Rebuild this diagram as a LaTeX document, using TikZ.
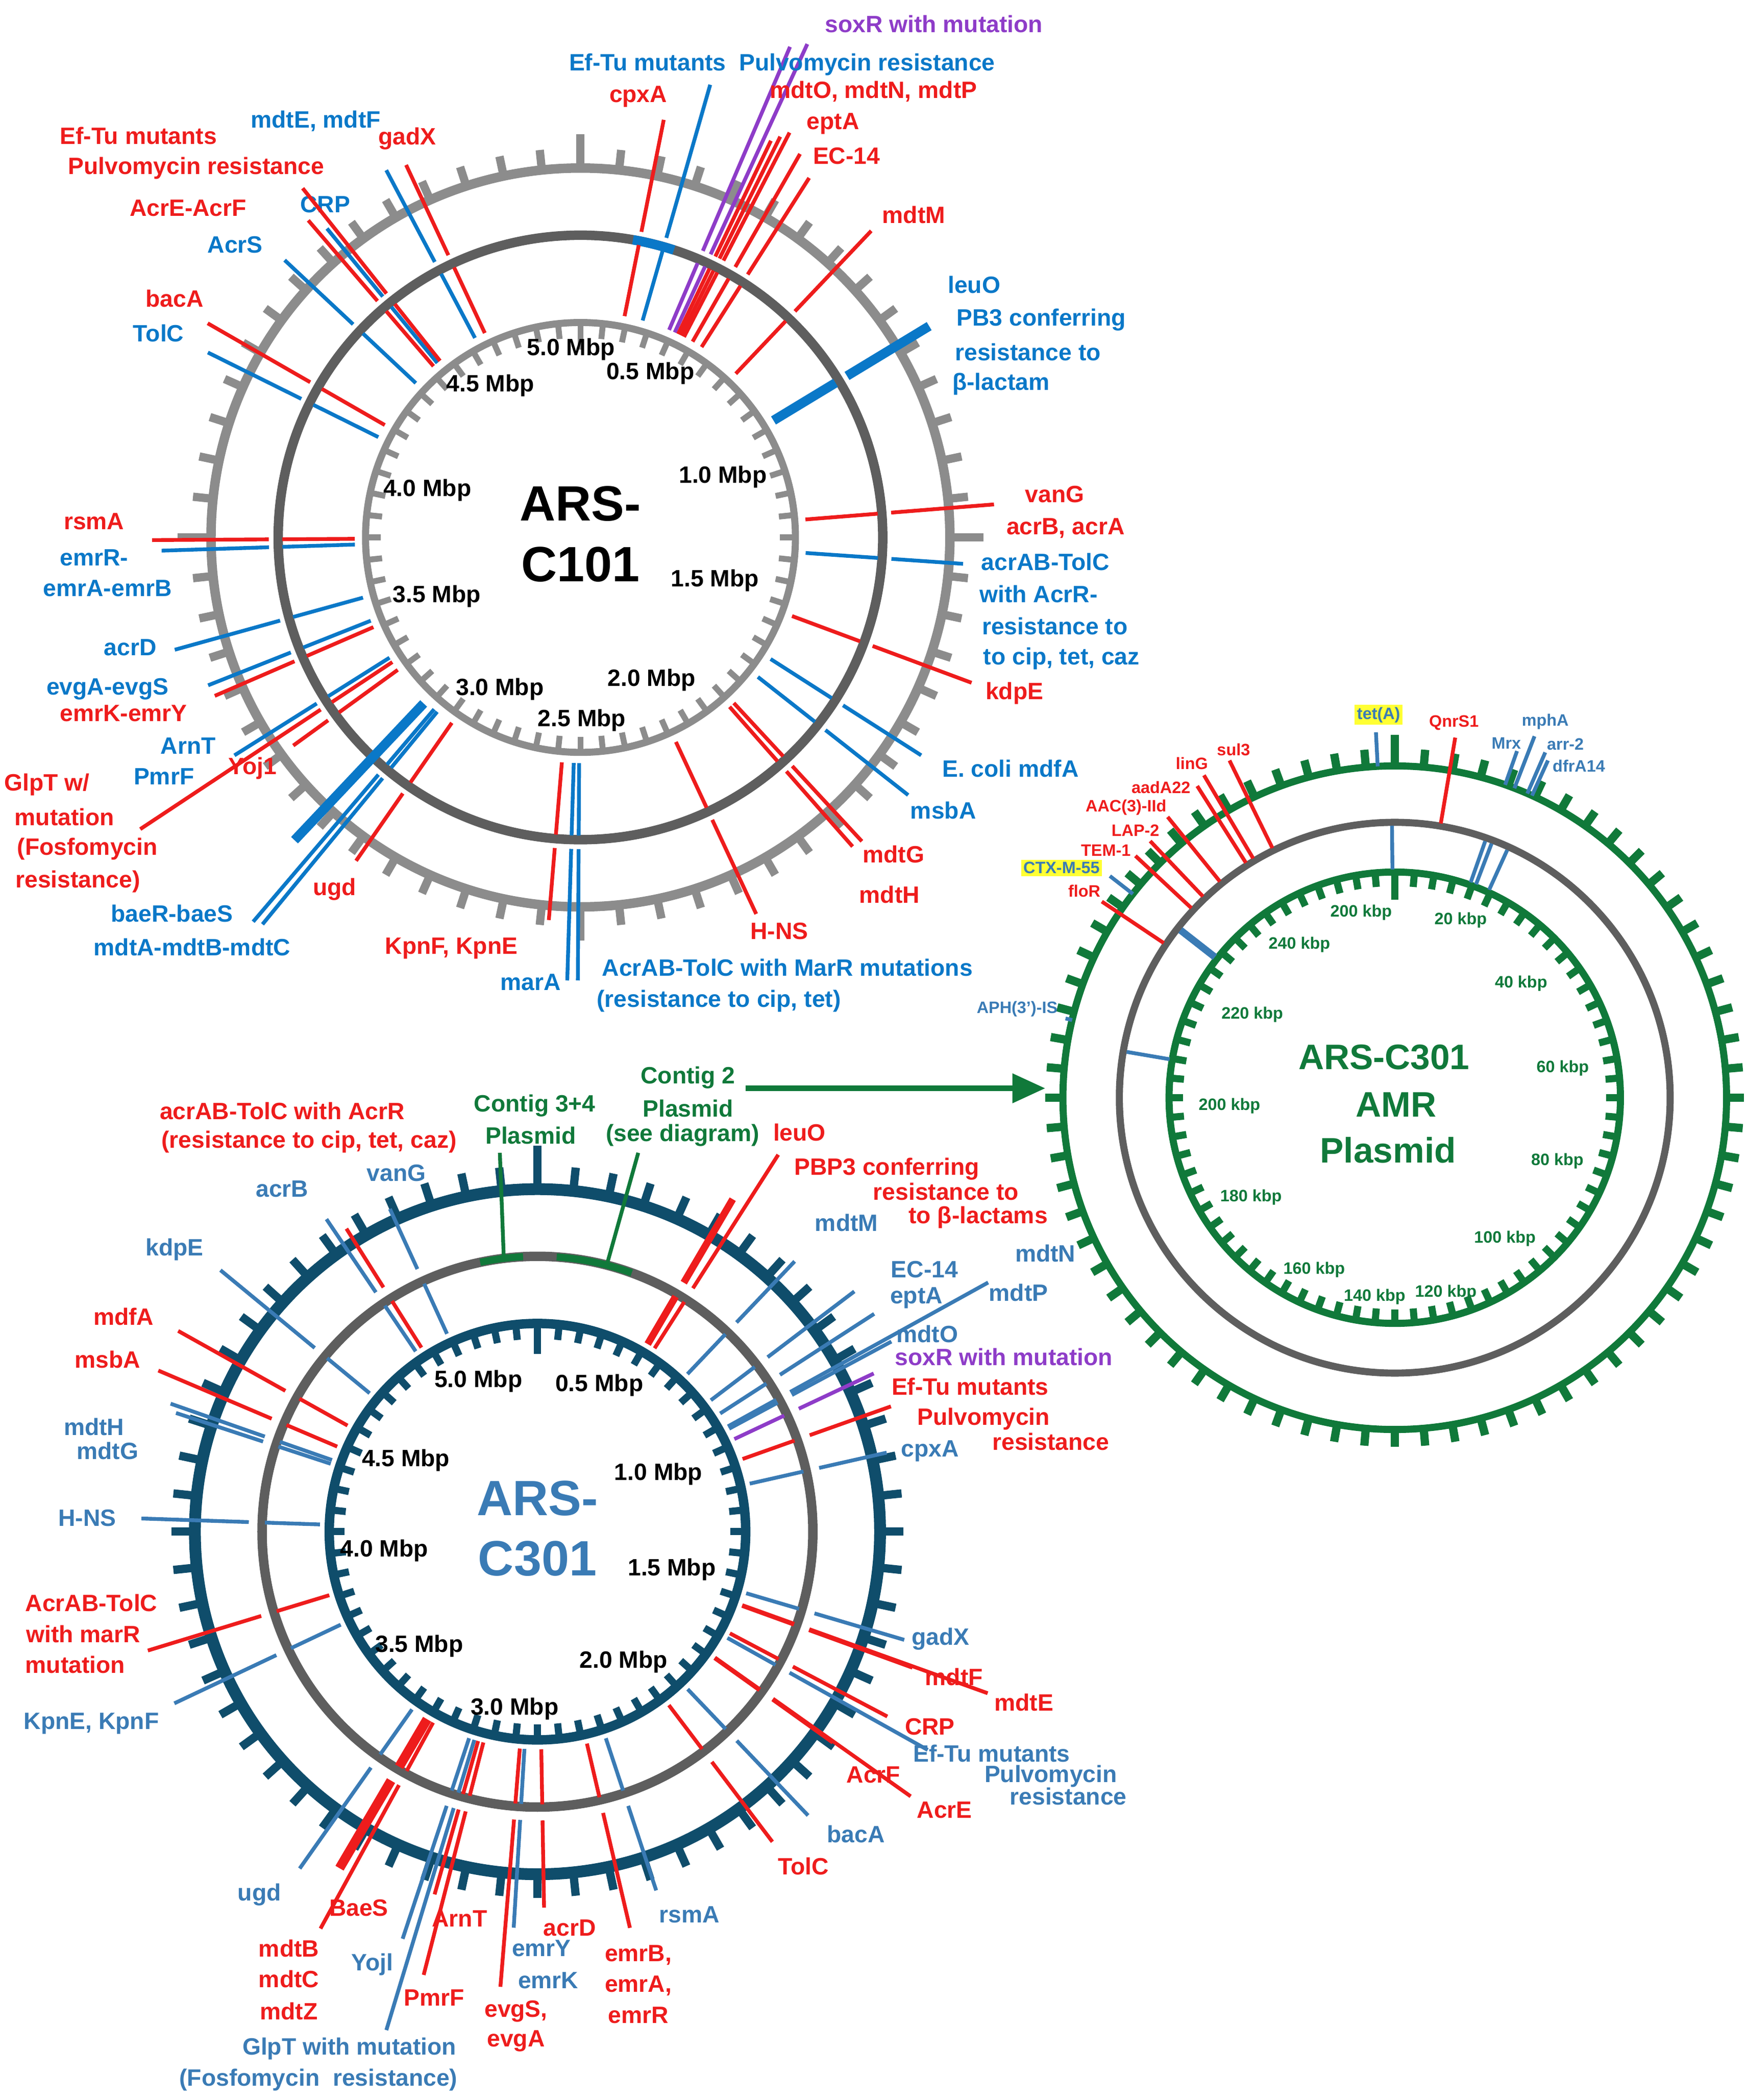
\documentclass[tikz,border=0pt]{standalone}
\usepackage{fontspec}
\setmainfont{Liberation Sans}
\usetikzlibrary{calc,arrows.meta}
\definecolor{R}{HTML}{EE1C1C}
\definecolor{B}{HTML}{0A78C8}
\definecolor{S}{HTML}{3A7BB5}
\definecolor{P}{HTML}{8E3CC8}
\definecolor{G}{HTML}{10793A}
\definecolor{T}{HTML}{0F4D6B}
\definecolor{LG}{HTML}{8C8C8C}
\definecolor{DG}{HTML}{5E5E5E}
\definecolor{HL}{HTML}{FFFF33}
\tikzset{
 l/.style={font=\fontsize{10}{11}\selectfont\bfseries,inner sep=0pt},
 s/.style={font=\fontsize{7}{8}\selectfont\bfseries,inner sep=0pt},
 mk/.style={line width=1.6pt},
}
% \mrk{center}{r1}{r2}{rout}{color}{x,y}
\newcommand\mrk[6]{\draw[mk,#5] ($(#1)!#2!(#6)$) -- ($(#1)!#3!(#6)$); \draw[mk,#5,shorten >=3pt] ($(#1)!#4!(#6)$) -- (#6);}
\newcommand\ma[2]{\mrk{A}{3.36cm}{4.44cm}{4.64cm}{#1}{#2}}
\newcommand\mb[2]{\mrk{Bc}{3.24cm}{4.06cm}{4.3cm}{#1}{#2}}
% plasmid: outer line from radius #3 ; inner segment
\newcommand\mco[3]{\draw[mk,#1] ($(Cc)!#3!(#2)$) -- (#2);}
\newcommand\mci[2]{\draw[mk,#1] ($(Cc)!3.4cm!(#2)$) -- ($(Cc)!4.05cm!(#2)$);}
\begin{document}
\begin{tikzpicture}[x=0.02cm,y=-0.02cm]
\useasboundingbox (0,0) rectangle (1300,1563);
\coordinate (A) at (432,400);
\coordinate (Bc) at (400,1140);
\coordinate (Cc) at (1038,817);
% ===== ARS-C101 =====
\draw[LG,line width=4pt] (A) circle (5.5cm);
\foreach \a in {0,6,...,354} \draw[LG,line width=3.5pt] ($(A)+(\a:5.55cm)$) -- ($(A)+(\a:5.8cm)$);
\foreach \a in {90,270,0,180} \draw[LG,line width=3.5pt] ($(A)+(\a:5.55cm)$) -- ($(A)+(\a:6cm)$);
\draw[DG,line width=4pt] (A) circle (4.5cm);
\draw[B,line width=4pt] ($(A)+(80:4.5cm)$) arc (80:72:4.5cm);
\draw[LG,line width=3pt] (A) circle (3.2cm);
\foreach \a in {0,6,...,354} \draw[LG,line width=2.5pt] ($(A)+(\a:3.2cm)$) -- ($(A)+(\a:2.97cm)$);
\draw[LG,line width=2.5pt] ($(A)+(90:3.2cm)$) -- ($(A)+(90:2.8cm)$);
\node[font=\fontsize{21}{22}\selectfont\bfseries] at (432,375) {ARS-};
\node[font=\fontsize{21}{22}\selectfont\bfseries] at (432,420) {C101};
\foreach \t/\x/\y in {5.0 Mbp/425/260,0.5 Mbp/484/278,4.5 Mbp/365/287,1.0 Mbp/538/355,4.0 Mbp/318/365,1.5 Mbp/532/432,3.5 Mbp/325/444,2.0 Mbp/485/506,3.0 Mbp/372/513,2.5 Mbp/433/536}
  \node[l] at (\x,\y) {\t};
% markers C101
\ma{P}{603,28} \ma{P}{590,30}
\ma{B}{530,58} \node[l,B] at (582,48) {Ef-Tu mutants\ \ Pulvomycin resistance};
\node[l,P] at (695,18) {soxR with mutation};
\ma{R}{495,84} \node[l,R] at (475,72) {cpxA};
\ma{R}{590,94} \ma{R}{583,97} \ma{R}{576,100} \node[l,R] at (650,68) {mdtO, mdtN, mdtP};
\ma{R}{598,110} \node[l,R] at (620,92) {eptA};
\ma{R}{605,128} \node[l,R] at (630,116) {EC-14};
\ma{R}{652,168} \node[l,R] at (680,160) {mdtM};
\ma{B,line width=4pt}{696,240} \node[l,B] at (725,212) {leuO};
\node[l,B] at (775,238) {PB3 conferring}; \node[l,B] at (765,262) {resistance to}; \node[l,B] at (745,286) {β-lactam};
\ma{R}{745,375} \node[l,R] at (785,368) {vanG}; \node[l,R] at (793,393) {acrB, acrA};
\ma{B}{722,420} \node[l,B] at (778,418) {acrAB-TolC}; \node[l,B] at (773,442) {with AcrR-};
\node[l,B] at (785,466) {resistance to}; \node[l,B] at (790,490) {to cip, tet, caz};
\ma{R}{728,510} \node[l,R] at (755,516) {kdpE};
\ma{B}{690,565} \node[l,B] at (752,572) {E. coli mdfA};
\ma{B}{680,595} \node[l,B] at (702,603) {msbA};
\ma{R}{645,630} \ma{R}{638,634} \node[l,R] at (665,636) {mdtG}; \node[l,R] at (662,666) {mdtH};
\ma{R}{565,685} \node[l,R] at (580,693) {H-NS};
\ma{B}{422,735} \ma{B}{430,735} \node[l,B] at (395,731) {marA};
\node[l,B] at (586,720) {AcrAB-TolC with MarR mutations}; \node[l,B] at (535,745) {(resistance to cip, tet)};
\ma{R}{408,690} \node[l,R] at (336,706) {KpnF, KpnE};
\ma{R}{262,645} \node[l,R] at (249,662) {ugd};
\ma{B}{185,690} \ma{B}{192,692} \node[l,B] at (128,680) {baeR-baeS}; \node[l,B] at (143,705) {mdtA-mdtB-mdtC};
\draw[B,line width=4pt] ($(A)!3.4cm!(262,580)$) -- ($(A)!6.2cm!(262,580)$);
\ma{R}{214,558} \node[l,R] at (188,572) {Yoj1};
\ma{R}{100,620} \node[l,R] at (35,584) {GlpT w/}; \node[l,R] at (48,608) {mutation}; \node[l,R] at (65,632) {(Fosfomycin}; \node[l,R] at (58,656) {resistance)};
\ma{B}{170,565} \node[l,B] at (140,555) {ArnT}; \node[l,B] at (122,578) {PmrF};
\ma{B}{150,512} \ma{R}{155,520} \node[l,B] at (80,513) {evgA-evgS}; \node[l,R] at (92,531) {emrK-emrY};
\ma{B}{125,485} \node[l,B] at (97,482) {acrD};
\ma{R}{108,402} \node[l,R] at (70,388) {rsmA};
\ma{B}{115,410} \node[l,B] at (70,415) {emrR-}; \node[l,B] at (80,438) {emrA-emrB};
\ma{R}{150,238} \node[l,R] at (130,222) {bacA};
\ma{B}{150,260} \node[l,B] at (118,248) {TolC};
\ma{B}{208,190} \node[l,B] at (175,182) {AcrS};
\ma{B}{240,166} \node[l,B] at (242,152) {CRP};
\ma{R}{226,160} \node[l,R] at (140,155) {AcrE-AcrF};
\ma{R}{222,136} \node[l,R] at (103,101) {Ef-Tu mutants}; \node[l,R] at (146,125) {Pulvomycin resistance};
\ma{B}{285,122} \node[l,B] at (235,90) {mdtE, mdtF};
\ma{R}{300,118} \node[l,R] at (303,103) {gadX};
% ===== ARS-C301 =====
\draw[T,line width=5pt] (Bc) circle (5.1cm);
\foreach \a in {0,6,...,354} \draw[T,line width=3.5pt] ($(Bc)+(\a:5.15cm)$) -- ($(Bc)+(\a:5.45cm)$);
\draw[T,line width=3.5pt] ($(Bc)+(90:5.15cm)$) -- ($(Bc)+(90:5.75cm)$);
\draw[DG,line width=4pt] (Bc) circle (4.1cm);
\draw[G,line width=3pt] ($(Bc)+(102:4.1cm)$) arc (102:93:4.1cm);
\draw[G,line width=3pt] ($(Bc)+(86:4.1cm)$) arc (86:70:4.1cm);
\draw[T,line width=4pt] (Bc) circle (3.1cm);
\foreach \a in {0,6,...,354} \draw[T,line width=3pt] ($(Bc)+(\a:3.1cm)$) -- ($(Bc)+(\a:2.87cm)$);
\draw[T,line width=3pt] ($(Bc)+(90:3.1cm)$) -- ($(Bc)+(90:2.65cm)$);
\node[font=\fontsize{21}{22}\selectfont\bfseries,S] at (400,1115) {ARS-};
\node[font=\fontsize{21}{22}\selectfont\bfseries,S] at (400,1160) {C301};
\foreach \t/\x/\y in {5.0 Mbp/356/1028,0.5 Mbp/446/1031,4.5 Mbp/302/1087,1.0 Mbp/490/1097,4.0 Mbp/286/1154,1.5 Mbp/500/1168,3.5 Mbp/312/1225,2.0 Mbp/464/1237,3.0 Mbp/383/1272}
  \node[l] at (\x,\y) {\t};
\coordinate (g1) at (375,938); \coordinate (g2) at (452,940);
\draw[G,mk] (g1) -- (372,858); \draw[G,mk] (g2) -- (475,858);
\node[l,G] at (398,823) {Contig 3+4}; \node[l,G] at (395,845) {Plasmid};
\node[l,G] at (512,802) {Contig 2}; \node[l,G] at (512,825) {Plasmid}; \node[l,G] at (508,845) {(see diagram)};
\draw[G,line width=2.5pt,-{Triangle[length=14pt,width=12pt]}] (555,810) -- (778,810);
\mb{R}{255,910} \node[l,R] at (210,827) {acrAB-TolC with AcrR}; \node[l,R] at (230,850) {(resistance to cip, tet, caz)};
\mb{S}{240,903} \node[l,S] at (210,885) {acrB};
\mb{S}{288,895} \node[l,S] at (295,873) {vanG};
\mb{S}{160,942} \node[l,S] at (130,930) {kdpE};
\mb{R}{128,988} \node[l,R] at (92,980) {mdfA};
\mb{R}{113,1018} \node[l,R] at (80,1012) {msbA};
\mb{S}{122,1043} \mb{S}{126,1050} \node[l,S] at (70,1062) {mdtH}; \node[l,S] at (80,1080) {mdtG};
\mb{S}{100,1130} \node[l,S] at (65,1130) {H-NS};
\mb{R}{105,1230} \node[l,R] at (68,1193) {AcrAB-TolC}; \node[l,R] at (62,1216) {with marR}; \node[l,R] at (56,1239) {mutation};
\mb{S}{125,1270} \node[l,S] at (68,1283) {KpnE, KpnF};
\mb{S}{220,1395} \node[l,S] at (193,1410) {ugd};
\mb{R,line width=4pt}{250,1395} \node[l,R] at (267,1420) {BaeS};
\mb{R}{236,1440} \node[l,R] at (215,1450) {mdtB}; \node[l,R] at (215,1473) {mdtC}; \node[l,R] at (215,1497) {mdtZ};
\mb{S}{298,1448} \node[l,S] at (277,1462) {Yojl};
\mb{R}{322,1415} \node[l,R] at (342,1428) {ArnT};
\mb{R}{314,1475} \node[l,R] at (323,1487) {PmrF};
\mb{S}{286,1516} \node[l,S] at (260,1525) {GlpT with mutation}; \node[l,S] at (237,1548) {(Fosfomycin\ \ resistance)};
\mb{S}{382,1440} \node[l,S] at (403,1450) {emrY}; \node[l,S] at (408,1474) {emrK};
\mb{R}{405,1425} \node[l,R] at (424,1435) {acrD};
\mb{R}{372,1484} \node[l,R] at (384,1497) {evgS,}; \node[l,R] at (384,1519) {evgA};
\mb{R}{470,1440} \node[l,R] at (475,1455) {emrB,}; \node[l,R] at (475,1478) {emrA,}; \node[l,R] at (475,1500) {emrR};
\mb{S}{490,1412} \node[l,S] at (513,1425) {rsmA};
\mb{R}{578,1375} \node[l,R] at (598,1389) {TolC};
\mb{S}{605,1355} \node[l,S] at (637,1365) {bacA};
\mb{R}{624,1300} \node[l,R] at (650,1321) {AcrF};
\mb{R}{682,1340} \node[l,R] at (703,1347) {AcrE};
\mb{R}{665,1280} \node[l,R] at (692,1285) {CRP};
\mb{S}{695,1305} \node[l,S] at (738,1305) {Ef-Tu mutants}; \node[l,S] at (782,1322) {Pulvomycin}; \node[l,S] at (795,1337) {resistance};
\mb{R}{684,1243} \node[l,R] at (710,1248) {mdtF};
\mb{R}{740,1262} \node[l,R] at (762,1267) {mdtE};
\mb{S}{678,1222} \node[l,S] at (700,1220) {gadX};
\mb{S}{665,1080} \node[l,S] at (692,1080) {cpxA};
\mb{R}{668,1045} \node[l,R] at (722,1032) {Ef-Tu mutants}; \node[l,R] at (732,1056) {Pulvomycin}; \node[l,R] at (782,1073) {resistance};
\mb{P}{655,1020} \node[l,P] at (747,1010) {soxR with mutation};
\mb{S}{668,996} \node[l,S] at (690,993) {mdtO};
\mb{S}{740,952} \node[l,S] at (758,962) {mdtP}; \node[l,S] at (778,933) {mdtN};
\mb{S}{655,975} \node[l,S] at (682,966) {eptA};
\mb{S}{640,958} \node[l,S] at (688,945) {EC-14};
\mb{S}{595,935} \node[l,S] at (630,910) {mdtM};
\mb{R}{582,855} \node[l,R] at (595,843) {leuO};
\mb{R,line width=3pt}{548,888} \node[l,R] at (660,870) {PBP3 conferring}; \node[l,R] at (704,887) {resistance to}; \node[l,R] at (728,906) {to β-lactams};
% ===== Plasmid =====
\draw[G,line width=3pt] (Cc) circle (4.94cm);
\foreach \a in {0,5,...,355} \draw[G,line width=3.5pt] ($(Cc)+(\a:4.97cm)$) -- ($(Cc)+(\a:5.2cm)$);
\draw[G,line width=3.5pt] ($(Cc)+(90:4.97cm)$) -- ($(Cc)+(90:5.4cm)$);
\draw[DG,line width=3pt] (Cc) circle (4.1cm);
\draw[G,line width=3pt] (Cc) circle (3.36cm);
\foreach \a in {0,5,...,355} \draw[G,line width=3pt] ($(Cc)+(\a:3.36cm)$) -- ($(Cc)+(\a:3.15cm)$);
\draw[G,line width=3pt] ($(Cc)+(90:3.36cm)$) -- ($(Cc)+(90:2.95cm)$);
\node[font=\fontsize{15}{16}\selectfont\bfseries,G] at (1030,787) {ARS-C301};
\node[font=\fontsize{15}{16}\selectfont\bfseries,G] at (1039,822) {AMR};
\node[font=\fontsize{15}{16}\selectfont\bfseries,G] at (1033,856) {Plasmid};
\foreach \t/\x/\y in {200 kbp/1013/679,20 kbp/1087/685,240 kbp/967/703,40 kbp/1132/732,220 kbp/932/755,60 kbp/1163/795,200 kbp/915/823,80 kbp/1159/864,180 kbp/931/891,100 kbp/1120/922,160 kbp/978/945,140 kbp/1023/965,120 kbp/1076/962}
  \node[s,G] at (\x,\y) {\t};
% tet(A)
\mci{S}{1036,618} \mco{S}{1024,545}{4.94cm}
\node[s,S,fill=HL,inner sep=1pt] at (1026,532) {tet(A)};
\mco{R}{1083,549}{4.14cm} \node[s,R] at (1082,538) {QnrS1};
\mci{S}{1105,627} \mci{S}{1110,628} \mci{S}{1122,632}
\mco{S}{1129,559}{4.94cm} \node[s,S] at (1121,553) {Mrx};
\mco{S}{1142,548}{4.94cm} \node[s,S] at (1150,537) {mphA};
\mco{S}{1150,560}{4.94cm} \node[s,S] at (1165,554) {arr-2};
\mco{S}{1152,566}{4.94cm} \node[s,S] at (1175,570) {dfrA14};
\mco{R}{915,566}{4.14cm} \node[s,R] at (918,558) {sul3};
\mco{R}{896,577}{4.14cm} \node[s,R] at (887,568) {linG};
\mco{R}{891,585}{4.14cm} \node[s,R] at (864,586) {aadA22};
\mco{R}{869,608}{4.14cm} \node[s,R] at (838,601) {AAC(3)-IId};
\mco{R}{856,626}{4.14cm} \node[s,R] at (845,618) {LAP-2};
\mco{R}{845,637}{4.14cm} \node[s,R] at (823,633) {TEM-1};
\mco{S}{826,652}{4.94cm} \node[s,S,fill=HL,inner sep=1pt] at (790,646) {CTX-M-55};
\mco{R}{820,671}{4.14cm} \node[s,R] at (807,663) {floR};
\draw[S,line width=3pt] ($(Cc)!3.4cm!(882,695)$) -- ($(Cc)!4.05cm!(882,695)$);
\mci{S}{845,784}
\mco{S}{793,758}{4.94cm} \node[s,S] at (757,751) {APH(3')-IS};
\end{tikzpicture}
\end{document}
